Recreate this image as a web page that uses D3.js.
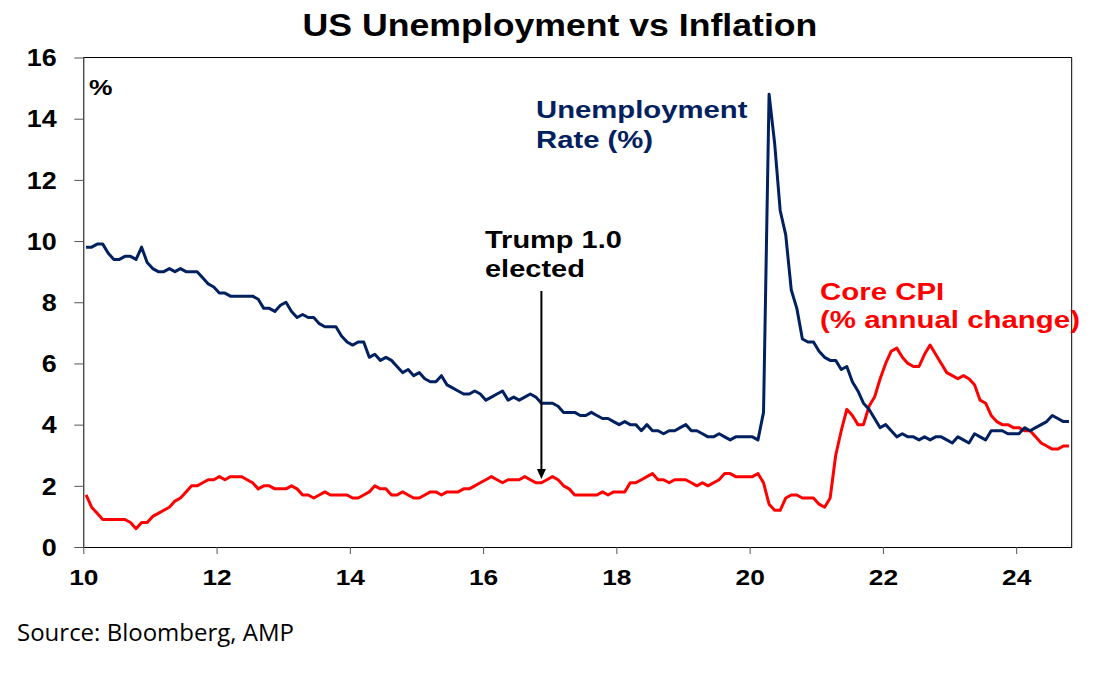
<!DOCTYPE html>
<html>
<head>
<meta charset="utf-8">
<script src="https://cdn.jsdelivr.net/npm/d3@7"></script>
<style>
  body { margin: 0; background: #fff; }
  svg { display: block; }
</style>
</head>
<body>
<div id="chart_box"></div>
<script>
// monthly data, Jan 2010 .. Oct 2024
startYear = 2010
unemploymentRate = [
  9.8, 9.8, 9.9, 9.9, 9.6, 9.4, 9.4, 9.5, 9.5, 9.4, 9.8, 9.3,
  9.1, 9.0, 9.0, 9.1, 9.0, 9.1, 9.0, 9.0, 9.0, 8.8, 8.6, 8.5,
  8.3, 8.3, 8.2, 8.2, 8.2, 8.2, 8.2, 8.1, 7.8, 7.8, 7.7, 7.9,
  8.0, 7.7, 7.5, 7.6, 7.5, 7.5, 7.3, 7.2, 7.2, 7.2, 6.9, 6.7,
  6.6, 6.7, 6.7, 6.2, 6.3, 6.1, 6.2, 6.1, 5.9, 5.7, 5.8, 5.6,
  5.7, 5.5, 5.4, 5.4, 5.6, 5.3, 5.2, 5.1, 5.0, 5.0, 5.1, 5.0,
  4.8, 4.9, 5.0, 5.1, 4.8, 4.9, 4.8, 4.9, 5.0, 4.9, 4.7, 4.7,
  4.7, 4.6, 4.4, 4.4, 4.4, 4.3, 4.3, 4.4, 4.3, 4.2, 4.2, 4.1,
  4.0, 4.1, 4.0, 4.0, 3.8, 4.0, 3.8, 3.8, 3.7, 3.8, 3.8, 3.9,
  4.0, 3.8, 3.8, 3.7, 3.6, 3.6, 3.7, 3.6, 3.5, 3.6, 3.6, 3.6,
  3.6, 3.5, 4.4, 14.8, 13.2, 11.0, 10.2, 8.4, 7.8, 6.8, 6.7, 6.7,
  6.4, 6.2, 6.1, 6.1, 5.8, 5.9, 5.4, 5.1, 4.7, 4.5, 4.2, 3.9,
  4.0, 3.8, 3.6, 3.7, 3.6, 3.6, 3.5, 3.6, 3.5, 3.6, 3.6, 3.5,
  3.4, 3.6, 3.5, 3.4, 3.7, 3.6, 3.5, 3.8, 3.8, 3.8, 3.7, 3.7,
  3.7, 3.9, 3.8, 3.9, 4.0, 4.1, 4.3, 4.2, 4.1, 4.1
]
coreCpi = [
  1.7, 1.3, 1.1, 0.9, 0.9, 0.9, 0.9, 0.9, 0.8, 0.6, 0.8, 0.8,
  1.0, 1.1, 1.2, 1.3, 1.5, 1.6, 1.8, 2.0, 2.0, 2.1, 2.2, 2.2,
  2.3, 2.2, 2.3, 2.3, 2.3, 2.2, 2.1, 1.9, 2.0, 2.0, 1.9, 1.9,
  1.9, 2.0, 1.9, 1.7, 1.7, 1.6, 1.7, 1.8, 1.7, 1.7, 1.7, 1.7,
  1.6, 1.6, 1.7, 1.8, 2.0, 1.9, 1.9, 1.7, 1.7, 1.8, 1.7, 1.6,
  1.6, 1.7, 1.8, 1.8, 1.7, 1.8, 1.8, 1.8, 1.9, 1.9, 2.0, 2.1,
  2.2, 2.3, 2.2, 2.1, 2.2, 2.2, 2.2, 2.3, 2.2, 2.1, 2.1, 2.2,
  2.3, 2.2, 2.0, 1.9, 1.7, 1.7, 1.7, 1.7, 1.7, 1.8, 1.7, 1.8,
  1.8, 1.8, 2.1, 2.1, 2.2, 2.3, 2.4, 2.2, 2.2, 2.1, 2.2, 2.2,
  2.2, 2.1, 2.0, 2.1, 2.0, 2.1, 2.2, 2.4, 2.4, 2.3, 2.3, 2.3,
  2.3, 2.4, 2.1, 1.4, 1.2, 1.2, 1.6, 1.7, 1.7, 1.6, 1.6, 1.6,
  1.4, 1.3, 1.6, 3.0, 3.8, 4.5, 4.3, 4.0, 4.0, 4.6, 4.9, 5.5,
  6.0, 6.4, 6.5, 6.2, 6.0, 5.9, 5.9, 6.3, 6.6, 6.3, 6.0, 5.7,
  5.6, 5.5, 5.6, 5.5, 5.3, 4.8, 4.7, 4.3, 4.1, 4.0, 4.0, 3.9,
  3.9, 3.8, 3.8, 3.6, 3.4, 3.3, 3.2, 3.2, 3.3, 3.3
]
xTickValues = [2010, 2012, 2014, 2016, 2018, 2020, 2022, 2024]
yTickValues = [0, 2, 4, 6, 8, 10, 12, 14, 16]
trumpElected = 2016 + 10.5 / 12

chartWidth = 1103
chartHeight = 674
plotLeft = 83.3
plotRight = 1071.7
plotTop = 57.5
plotBottom = 547

navy = "#002060"
red = "#ff0000"
boldFont = "'Liberation Sans', Arial, sans-serif"

function monthDate(i) {
    // points sit in the middle of each month
    return startYear + (i + 0.5) / 12
}

// text drawn a bit wider than the font, like the original picture
function stretchedText(parent, str, x, y, size, sx, color, anchor) {
    return parent.append("text")
        .attr("transform", "translate(" + x + "," + y + ") scale(" + sx + ",1)")
        .attr("font-family", boldFont)
        .attr("font-weight", "bold")
        .attr("font-size", size)
        .attr("fill", color)
        .attr("text-anchor", anchor || "start")
        .text(str)
}

function create_chart() {
    const svg = d3.select("#chart_box").append("svg")
        .attr("width", chartWidth)
        .attr("height", chartHeight)

    const x = d3.scaleLinear()
        .domain([2010, 2024 + 10 / 12])
        .range([plotLeft, plotRight])

    const y = d3.scaleLinear()
        .domain([0, 16])
        .range([plotBottom, plotTop])

    // title
    stretchedText(svg, "US Unemployment vs Inflation", 560, 36, 31, 1.15, "#000", "middle")

    // frame: top and right edges
    svg.append("line")
        .attr("x1", plotLeft).attr("x2", plotRight)
        .attr("y1", plotTop).attr("y2", plotTop)
        .attr("stroke", "#000").attr("stroke-width", 1)
    svg.append("line")
        .attr("x1", plotRight).attr("x2", plotRight)
        .attr("y1", plotTop).attr("y2", plotBottom)
        .attr("stroke", "#000").attr("stroke-width", 1)

    const yAxis = svg.append("g")
        .attr("transform", "translate(" + plotLeft + ",0)")
        .call(d3.axisLeft(y).tickValues(yTickValues).tickSize(9).tickSizeOuter(0).tickFormat(d3.format("d")))
    yAxis.select(".domain").attr("stroke", "#000")
    yAxis.selectAll(".tick line").attr("stroke", "#555")
    yAxis.selectAll("text")
        .attr("font-family", boldFont)
        .attr("font-weight", "bold")
        .attr("font-size", 23)
        .attr("fill", "#000")
        .attr("x", -26.6 / 1.17)
        .attr("dy", "0.36em")
        .attr("transform", "scale(1.17,1)")

    const xAxis = svg.append("g")
        .attr("transform", "translate(0," + plotBottom + ")")
        .call(d3.axisBottom(x).tickValues(xTickValues).tickSize(7).tickSizeOuter(0)
            .tickFormat(d => String(d % 100)))
    xAxis.select(".domain").attr("stroke", "#000")
    xAxis.selectAll(".tick line").attr("stroke", "#555")
    xAxis.selectAll("text")
        .attr("font-family", boldFont)
        .attr("font-weight", "bold")
        .attr("font-size", 22.5)
        .attr("fill", "#000")
        .attr("y", 22)
        .attr("transform", "scale(1.17,1)")

    const line = d3.line()
        .x((d, i) => x(monthDate(i)))
        .y(d => y(d))

    svg.append("path")
        .attr("d", line(coreCpi))
        .attr("fill", "none")
        .attr("stroke", red)
        .attr("stroke-width", 3)
        .attr("stroke-linejoin", "round")

    svg.append("path")
        .attr("d", line(unemploymentRate))
        .attr("fill", "none")
        .attr("stroke", navy)
        .attr("stroke-width", 3)
        .attr("stroke-linejoin", "round")

    // Trump arrow
    const ax = x(trumpElected)
    svg.append("line")
        .attr("x1", ax).attr("x2", ax)
        .attr("y1", 291).attr("y2", 470)
        .attr("stroke", "#000").attr("stroke-width", 2)
    svg.append("path")
        .attr("d", "M" + (ax - 4.5) + ",469 L" + (ax + 4.5) + ",469 L" + ax + ",479 Z")
        .attr("fill", "#000")

    // labels
    stretchedText(svg, "%", 89, 95, 22, 1.2, "#000")
    stretchedText(svg, "Unemployment", 536, 118, 24, 1.22, navy)
    stretchedText(svg, "Rate (%)", 536, 148, 24, 1.22, navy)
    stretchedText(svg, "Trump 1.0", 485, 248, 23, 1.26, "#000")
    stretchedText(svg, "elected", 485, 277, 23, 1.26, "#000")
    stretchedText(svg, "Core CPI", 820, 300, 23, 1.28, red)
    stretchedText(svg, "(% annual change)", 820, 328, 23, 1.28, red)

    svg.append("text")
        .attr("x", 17)
        .attr("y", 641)
        .attr("font-family", "'Open Sans', sans-serif")
        .attr("font-size", 24)
        .attr("fill", "#000")
        .text("Source: Bloomberg, AMP")
}

create_chart()
</script>
</body>
</html>
